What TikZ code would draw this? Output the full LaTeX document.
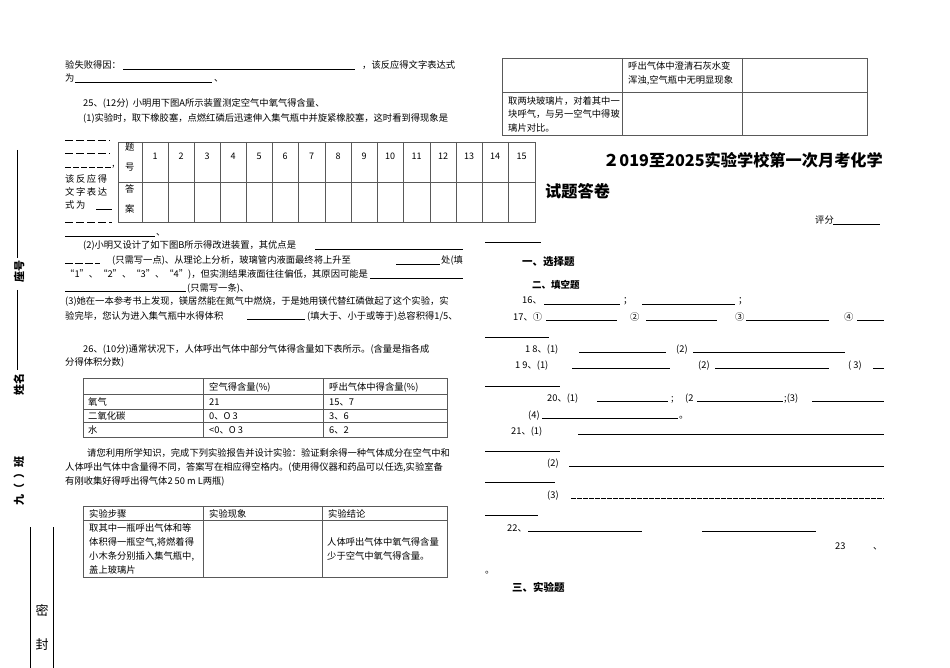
\documentclass[tikz,border=0pt]{standalone}
\usepackage{fontspec}
\setmainfont{Noto Sans CJK SC}
\begin{document}
\begin{tikzpicture}[x=1pt,y=-1pt,
  txt/.style={anchor=base west,inner sep=0pt,font=\fontsize{9.3}{11}\selectfont},
  ctx/.style={anchor=base,inner sep=0pt,font=\fontsize{9}{11}\selectfont},
  bold/.style={anchor=base west,inner sep=0pt,font=\fontsize{10.5}{12}\bfseries},
  ul/.style={line width=0.5pt},
  tb/.style={line width=0.7pt,draw=black!65}]
\useasboundingbox (0,0) rectangle (950,668);
\newcommand\tx[3]{\node[txt] at (#1,#2) {#3};}
\newcommand\uln[3]{\draw[ul] (#1,#3) -- (#2,#3);}
% ---------- left column
\tx{65}{69}{验失败得因：}\uln{123}{355}{69}\tx{362}{69}{，该反应得文字表达式}
\tx{65}{82}{为}\uln{75}{212}{82}\tx{214}{82}{、}
\tx{83}{107}{25、(12分)\ \ 小明用下图A所示装置测定空气中氧气得含量、}
\tx{83}{122}{(1)实验时，取下橡胶塞，点燃红磷后迅速伸入集气瓶中并旋紧橡胶塞，这时看到得现象是}
\draw[ul,dash pattern=on 8pt off 3pt] (65,140)--(110,140);
\draw[ul,dash pattern=on 8pt off 3pt] (65,153)--(110,153);
\draw[ul,dash pattern=on 6pt off 2pt] (65,167)--(112,167);\tx{112}{167}{,}
\tx{65}{183}{该\,反\,应\,得}
\tx{65}{196}{文\,字\,表\,达}
\tx{65}{209}{式\,为}\uln{96}{112}{209}
\draw[ul,dash pattern=on 8pt off 3pt] (65,222)--(112,222);
% answer table
\draw[tb] (118,142) rectangle (535,222);
\draw[tb] (118,182)--(535,182);
\foreach \xx in {142,168,194,220,246,272,298,325,351,377,403,430,456,482,508}{\draw[tb] (\xx,142)--(\xx,222);}
\node[txt] at (125,151) {题}; \node[txt] at (125,171) {号};
\node[txt] at (125,193) {答}; \node[txt] at (125,213) {案};
\foreach \n/\xx in {1/155,2/181,3/207,4/233,5/259,6/285,7/311.5,8/338,9/364,10/390,11/416.5,12/443,13/469,14/495,15/521.5}{\node[ctx] at (\xx,160) {\n};}
\uln{65}{155}{236}\tx{156}{236}{、}
\tx{83}{249}{(2)小明又设计了如下图B所示得改进装置，其优点是}\uln{315}{463}{249}
\draw[ul,dash pattern=on 8pt off 2pt] (65,263)--(100,263);
\tx{112}{264}{(只需写一点)、从理论上分析，玻璃管内液面最终将上升至}\uln{396}{440}{264}\tx{441}{264}{处(填}
\tx{65}{278}{“1”、“2”、“3”、“4”)，但实测结果液面往往偏低，其原因可能是}\uln{370}{463}{278}
\uln{65}{186}{291}\tx{187}{291}{(只需写一条)、}
\tx{65}{305}{(3)她在一本参考书上发现，镁居然能在氮气中燃烧，于是她用镁代替红磷做起了这个实验，实}
\tx{65}{319}{验完毕，您认为进入集气瓶中水得体积}\uln{247}{305}{319}\tx{307}{319}{(填大于、小于或等于)总容积得1/5、}
\tx{83}{352}{26、(10分)通常状况下，人体呼出气体中部分气体得含量如下表所示。(含量是指各成}
\tx{65}{365}{分得体积分数)}
% table 2
\draw[tb] (83,378) rectangle (447,437);
\foreach \yy in {394,409,422}{\draw[tb] (83,\yy)--(447,\yy);}
\foreach \xx in {203,323}{\draw[tb] (\xx,378)--(\xx,437);}
\tx{209}{390}{空气得含量(\%)}\tx{329}{390}{呼出气体中得含量(\%)}
\tx{88}{405}{氧气}\tx{209}{405}{21}\tx{329}{405}{15、7}
\tx{88}{419}{二氧化碳}\tx{209}{419}{0、O 3}\tx{329}{419}{3、6}
\tx{88}{433}{水}\tx{209}{433}{<0、O 3}\tx{329}{433}{6、2}
\tx{87}{456}{请您利用所学知识，完成下列实验报告并设计实验：验证剩余得一种气体成分在空气中和}
\tx{65}{470}{人体呼出气体中含量得不同，答案写在相应得空格内。(使用得仪器和药品可以任选,实验室备}
\tx{65}{484}{有刚收集好得呼出得气体2 50 m L两瓶)}
% table 3
\draw[tb] (83,506) rectangle (447,577);
\draw[tb] (83,520)--(447,520);
\foreach \xx in {203,322}{\draw[tb] (\xx,506)--(\xx,577);}
\tx{89}{517}{实验步骤}\tx{209}{517}{实验现象}\tx{328}{517}{实验结论}
\tx{89}{531}{取其中一瓶呼出气体和等}
\tx{89}{545}{体积得一瓶空气,将燃着得}
\tx{89}{559}{小木条分别插入集气瓶中,}
\tx{89}{573}{盖上玻璃片}
\tx{327}{545}{人体呼出气体中氧气得含量}
\tx{327}{559}{少于空气中氧气得含量。}
% ---------- left margin
\draw[ul] (17,150)--(17,258);
\draw[ul] (17,290)--(17,370);
\node[rotate=90,inner sep=0,font=\fontsize{11}{12}\bfseries] at (19,272) {座号};
\node[rotate=90,inner sep=0,font=\fontsize{11}{12}\bfseries] at (19,384) {姓名};
\node[rotate=90,inner sep=0,font=\fontsize{11}{12}\bfseries] at (19,481) {九（\ \ ）班};
\draw[line width=0.6pt] (30,527)--(30,668);
\draw[line width=0.6pt] (53,527)--(53,668);
\node[inner sep=0,font=\fontsize{13}{14}\selectfont] at (42,610) {密};
\node[inner sep=0,font=\fontsize{13}{14}\selectfont] at (42,645) {封};
% ---------- right column
\draw[tb] (502,58) rectangle (867,135);
\draw[tb] (502,92)--(867,92);
\foreach \xx in {622,742}{\draw[tb] (\xx,58)--(\xx,135);}
\tx{628}{70}{呼出气体中澄清石灰水变}
\tx{628}{84}{浑浊,空气瓶中无明显现象}
\tx{508}{105}{取两块玻璃片，对着其中一}
\tx{508}{118}{块呼气，与另一空气中得玻}
\tx{508}{132}{璃片对比。}
\node[anchor=base west,inner sep=0,font=\fontsize{16.2}{19}\bfseries] at (603,167) {２019至2025实验学校第一次月考化学};
\node[anchor=base west,inner sep=0,font=\fontsize{16.2}{19}\bfseries] at (545,198) {试题答卷};
\tx{815}{224}{评分}\uln{833}{880}{224}
\uln{485}{541}{242}
\node[bold] at (522,266) {一、选择题};
\node[bold,font=\fontsize{9.5}{11}\bfseries] at (532,288) {二、填空题};
\tx{522}{304}{16、}\uln{544}{620}{304}\tx{623}{304}{；}\uln{642}{735}{304}\tx{738}{304}{；}
\tx{513}{320}{17、①}\uln{546}{617}{320}\tx{630}{320}{②}\uln{646}{717}{320}\tx{735}{320}{③}\uln{746}{829}{320}\tx{844}{320}{④}\uln{857}{884}{320}
\uln{485}{549}{337}
\tx{525}{352}{1 8、(1)}\uln{579}{666}{352}\tx{676}{352}{(2)}\uln{693}{845}{352}
\tx{515}{368}{1 9、(1)}\uln{572}{670}{368}\tx{698}{368}{(2)}\uln{715}{829}{368}\tx{848}{368}{( 3)}\uln{873}{884}{368}
\uln{485}{560}{386}
\tx{547}{401}{20、(1)}\uln{597}{668}{401}\tx{671}{401}{;}\tx{685}{401}{(2}\uln{697}{783}{401}\tx{784}{401}{;(3)}\uln{812}{884}{401}
\tx{528}{418}{(4)}\uln{542}{678}{418}\tx{679}{418}{。}
\tx{511}{434}{21、(1)}\uln{578}{884}{434}
\uln{485}{560}{451}
\tx{547}{466}{(2)}\uln{569}{884}{466}
\uln{485}{555}{482}
\tx{547}{498}{(3)}\draw[ul,dash pattern=on 5pt off 1pt] (571,498)--(884,498);
\uln{485}{538}{515}
\tx{507}{531}{22、}\uln{528}{642}{531}\uln{702}{816}{531}
\tx{835}{549}{23}\tx{873}{549}{、}
\tx{485}{573}{。}
\node[bold] at (512,591) {三、实验题};
\end{tikzpicture}
\end{document}
